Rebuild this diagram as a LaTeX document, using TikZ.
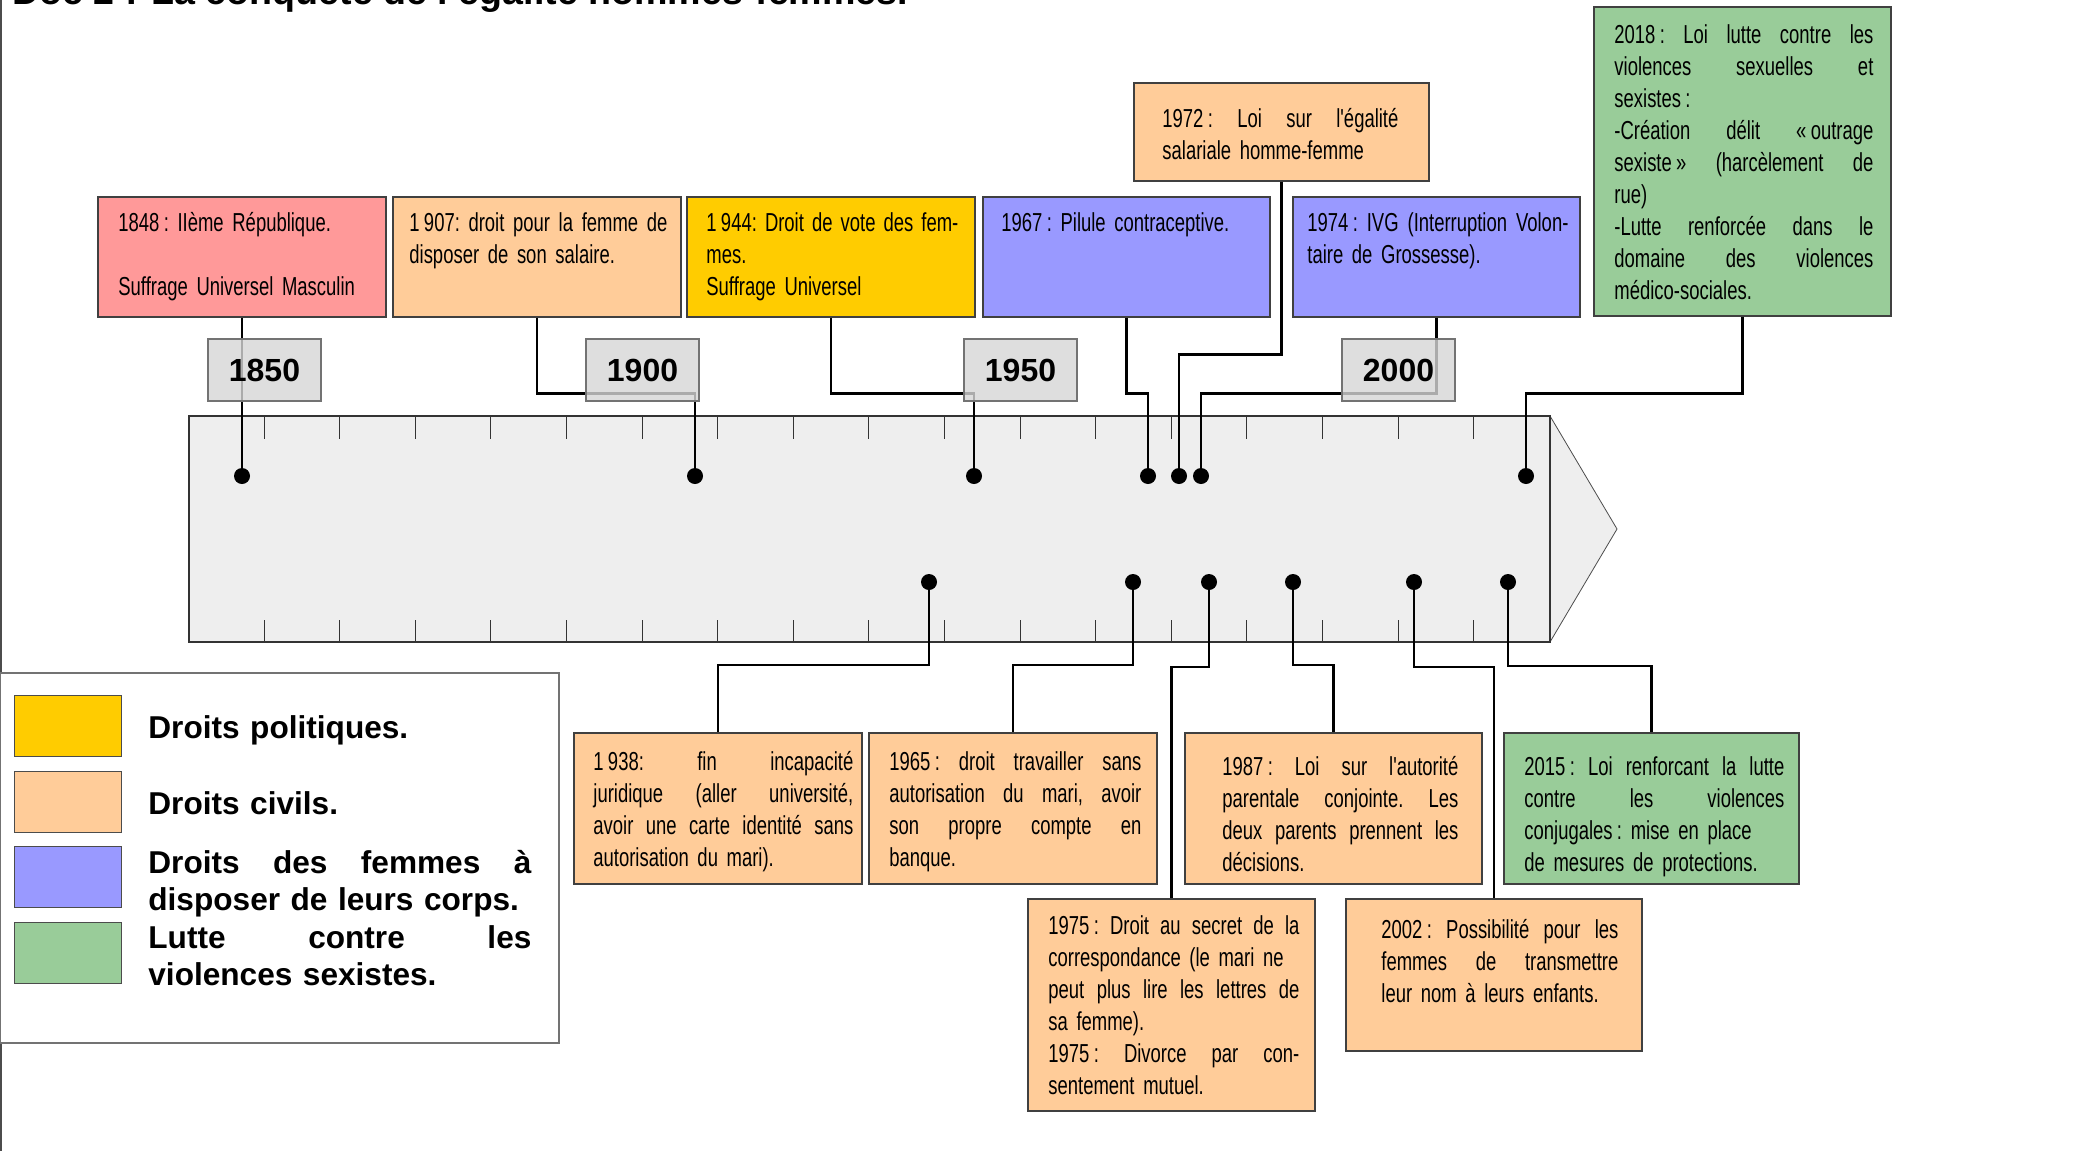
\documentclass[tikz,border=0pt]{standalone}
\usepackage{fontspec}
\setmainfont{Liberation Sans}
\newfontfamily\dinfont[FakeStretch=0.71]{Liberation Sans}
\definecolor{pinkc}{HTML}{FF9999}
\definecolor{peachc}{HTML}{FFCC99}
\definecolor{goldc}{HTML}{FFCC00}
\definecolor{lavc}{HTML}{9999FF}
\definecolor{greenc}{HTML}{99CC99}
\definecolor{arrowfill}{HTML}{EEEEEE}
\definecolor{yearfill}{HTML}{D6D6D6}
\newlength{\txtw}
\newcommand{\jline}[1]{\noindent\hbox to\txtw{\spaceskip=\fontdimen2\font plus 1fil\relax #1}\par}
\newcommand{\nline}[1]{\noindent\hbox{#1}\par}
\tikzset{
  evbox/.style={rectangle, draw=black!75, line width=0.6pt, inner sep=0pt},
  evtext/.style={anchor=base west, inner sep=0pt, text width=#1, execute at begin node={\setlength{\txtw}{#1}\frenchspacing}, font=\dinfont\fontsize{13}{16}\selectfont},
  legtext/.style={anchor=base west, inner sep=0pt, text width=191.5pt, execute at begin node={\setlength{\txtw}{191.5pt}}, font=\bfseries\fontsize{15.8}{18.75}\selectfont},
  yearbox/.style={rectangle, draw=black!55, line width=0.6pt, fill=yearfill, fill opacity=0.8, text opacity=1, inner sep=0pt, minimum width=56.5pt, minimum height=31pt, font=\bfseries\fontsize{16}{18}\selectfont},
  dot/.style={circle, fill=black, inner sep=0pt, minimum size=8pt},
  conn/.style={draw=black, line width=1.2pt},
  tick/.style={draw=black!80, line width=0.45pt},
  swatch/.style={rectangle, draw=black!70, line width=0.5pt, inner sep=0pt, minimum width=53.5pt, minimum height=30.5pt},
}
\begin{document}
\begin{tikzpicture}[x=0.5pt, y=-0.5pt]
\clip (0,0) rectangle (2080,1151);
\fill[white] (0,0) rectangle (2080,1151);
% title (cut off at top)
\node[anchor=base west, inner sep=0pt, font=\bfseries\fontsize{18.8}{22}\selectfont] (title) at (12,4) {Doc 2 : La conquête de l'égalité hommes-femmes.};
\draw[black!70, line width=0.8pt] (1,0) -- (1,1151);
% arrow body
\fill[arrowfill] (189,416) rectangle (1550,642);
\draw[fill=arrowfill, draw=black!70, line width=0.4pt] (1550,416) -- (1617,529) -- (1550,642);
\draw[black!80, line width=0.8pt] (189,416) rectangle (1550,642);
\foreach \k in {0,...,16} {
  \draw[tick] ({264+75.6*\k},416) -- ++(0,23);
  \draw[tick] ({264+75.6*\k},642) -- ++(0,-22);
}
% event boxes
\node[evbox, fill=pinkc, minimum width=144pt, minimum height=60pt] (b1848) at (242,257) {};
\node[evbox, fill=peachc, minimum width=144pt, minimum height=60pt] (b1907) at (537,257) {};
\node[evbox, fill=goldc, minimum width=144pt, minimum height=60pt] (b1944) at (831,257) {};
\node[evbox, fill=lavc, minimum width=143.5pt, minimum height=60pt] (b1967) at (1126.5,257) {};
\node[evbox, fill=lavc, minimum width=143.5pt, minimum height=60pt] (b1974) at (1436.5,257) {};
\node[evbox, fill=peachc, minimum width=147.5pt, minimum height=49pt] (b1972) at (1281.5,132) {};
\node[evbox, fill=greenc, minimum width=148.5pt, minimum height=154.5pt] (b2018) at (1742.5,161.5) {};
\node[evbox, fill=peachc, minimum width=144pt, minimum height=75.5pt] (b1938) at (718,808.5) {};
\node[evbox, fill=peachc, minimum width=144pt, minimum height=75.5pt] (b1965) at (1013,808.5) {};
\node[evbox, fill=peachc, minimum width=148.5pt, minimum height=75.5pt] (b1987) at (1333.5,808.5) {};
\node[evbox, fill=greenc, minimum width=147.5pt, minimum height=75.5pt] (b2015) at (1651.5,808.5) {};
\node[evbox, fill=peachc, minimum width=143.5pt, minimum height=106pt] (b1975) at (1171.5,1005) {};
\node[evbox, fill=peachc, minimum width=148pt, minimum height=76pt] (b2002) at (1494,975) {};
% texts
\node[evtext=130pt] (t1848) at (118,231) {\nline{1848\,: IIème République.}\nline{}\nline{Suffrage Universel Masculin}};
\node[evtext=129pt] (t1907) at (409,231) {\jline{1\,907: droit pour la femme de}\nline{disposer de son salaire.}};
\node[evtext=126pt] (t1944) at (706,231) {\jline{1\,944: Droit de vote des fem-}\nline{mes.}\nline{Suffrage Universel}};
\node[evtext=130pt] (t1967) at (1001,231) {\nline{1967\,: Pilule contraceptive.}};
\node[evtext=130.5pt] (t1974) at (1307,231) {\jline{1974\,: IVG (Interruption Volon-}\nline{taire de Grossesse).}};
\node[evtext=118pt] (t1972) at (1162,127) {\jline{1972\,: Loi sur l'égalité}\nline{salariale homme-femme}};
\node[evtext=129.5pt] (t2018) at (1614,43) {\jline{2018\,: Loi lutte contre les}\jline{violences sexuelles et}\nline{sexistes\,:}\jline{-Création délit «\,outrage}\jline{sexiste\,» (harcèlement de}\nline{rue)}\jline{-Lutte renforcée dans le}\jline{domaine des violences}\nline{médico-sociales.}};
\node[evtext=130pt] (t1938) at (593,770) {\jline{1\,938: fin incapacité}\jline{juridique (aller université,}\jline{avoir une carte identité sans}\nline{autorisation du mari).}};
\node[evtext=126pt] (t1965) at (889,770) {\jline{1965\,: droit travailler sans}\jline{autorisation du mari, avoir}\jline{son propre compte en}\nline{banque.}};
\node[evtext=118pt] (t1987) at (1222,775) {\jline{1987\,: Loi sur l'autorité}\jline{parentale conjointe. Les}\jline{deux parents prennent les}\nline{décisions.}};
\node[evtext=130pt] (t2015) at (1524,775) {\jline{2015\,: Loi renforcant la lutte}\jline{contre les violences}\nline{conjugales\,: mise en place}\nline{de mesures de protections.}};
\node[evtext=125.5pt] (t1975) at (1048,934) {\jline{1975\,: Droit au secret de la}\nline{correspondance (le mari ne}\jline{peut plus lire les lettres de}\nline{sa femme).}\jline{1975\,: Divorce par con-}\nline{sentement mutuel.}};
\node[evtext=118.5pt] (t2002) at (1381,938) {\jline{2002\,: Possibilité pour les}\jline{femmes de transmettre}\nline{leur nom à leurs enfants.}};
% dots
\node[dot] (d1848) at (242,476) {};
\node[dot] (d1907) at (695,476) {};
\node[dot] (d1944) at (974,476) {};
\node[dot] (d1967) at (1148,476) {};
\node[dot] (d1972) at (1179,476) {};
\node[dot] (d1974) at (1201,476) {};
\node[dot] (d2018) at (1526,476) {};
\node[dot] (d1938) at (929,582) {};
\node[dot] (d1965) at (1133,582) {};
\node[dot] (d1975) at (1209,582) {};
\node[dot] (d1987) at (1293,582) {};
\node[dot] (d2002) at (1414,582) {};
\node[dot] (d2015) at (1508,582) {};
% connectors
\draw[conn] (b1848.south) -- (d1848);
\draw[conn] (b1907.south) -- ++(0,76) -| (d1907);
\draw[conn] (b1944.south) -- ++(0,76) -| (d1944);
\draw[conn] (b1967.south) -- ++(0,76) -| (d1967);
\draw[conn] (b1972.south) -- ++(0,173) -| (d1972);
\draw[conn] (b1974.south) -- ++(0,76) -| (d1974);
\draw[conn] (b2018.south) -- ++(0,77) -| (d2018);
\draw[conn] (d1938) -- ++(0,83) -| (b1938.north);
\draw[conn] (d1965) -- ++(0,83) -| (b1965.north);
\draw[conn] (d1975) -- ++(0,85) -| (b1975.north);
\draw[conn] (d1987) -- ++(0,83) -| (b1987.north);
\draw[conn] (d2002) -- ++(0,85) -| (b2002.north);
\draw[conn] (d2015) -- ++(0,84) -| (b2015.north);
% year boxes
\node[yearbox] (y1850) at (264.5,370) {1850};
\node[yearbox] (y1900) at (642.5,370) {1900};
\node[yearbox] (y1950) at (1020.5,370) {1950};
\node[yearbox] (y2000) at (1398.5,370) {2000};
% legend
\node[rectangle, draw=black!55, line width=0.6pt, fill=white, inner sep=0pt, minimum width=279.5pt, minimum height=185pt] (legend) at (279.5,858) {};
\node[swatch, fill=goldc] (s1) at (67.5,725.5) {};
\node[swatch, fill=peachc] (s2) at (67.5,801.5) {};
\node[swatch, fill=lavc] (s3) at (67.5,877) {};
\node[swatch, fill=greenc] (s4) at (67.5,952.5) {};
\node[legtext] (l1) at (148,738) {\nline{Droits politiques.}};
\node[legtext] (l2) at (148,814) {\nline{Droits civils.}};
\node[legtext] (l3) at (148,873) {\jline{Droits des femmes à}\nline{disposer de leurs corps.}};
\node[legtext] (l4) at (148,948) {\jline{Lutte contre les}\nline{violences sexistes.}};
\end{tikzpicture}
\end{document}
